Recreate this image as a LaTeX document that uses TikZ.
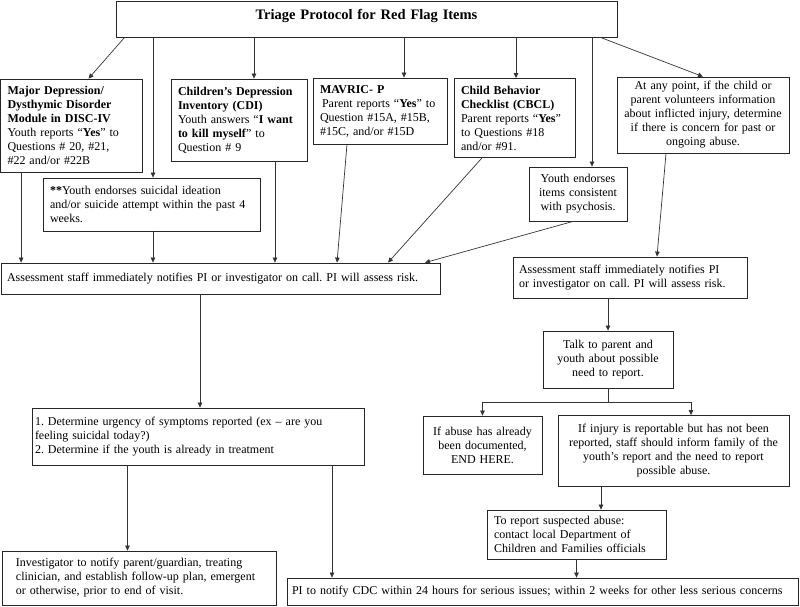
\documentclass[tikz,border=0pt]{standalone}
\usepackage{fontspec}
\setmainfont{Liberation Serif}
\usetikzlibrary{arrows.meta}
\begin{document}
\frenchspacing
\begin{tikzpicture}[x=1pt,y=-1pt,
  box/.style={draw=black!85, line width=0.8pt, rectangle, inner ysep=2pt,
    font=\fontsize{12}{14}\selectfont\frenchspacing},
  lbox/.style={box, align=left},
  cbox/.style={box, align=center},
  arr/.style={draw=black!80, line width=0.7pt, -{Triangle[length=5pt,width=4.5pt]}}]
\useasboundingbox (0,0) rectangle (800,606);

% boxes: (cx,cy), width, height
\node[cbox, minimum width=501pt, minimum height=36pt, text width=490pt, font=\fontsize{14.5}{16}\selectfont\bfseries]
  (title) at (366.5,19) {\raisebox{10pt}{Triage Protocol for Red Flag Items}};

\node[lbox, minimum width=142pt, minimum height=93pt, inner xsep=7pt, text width=128pt] (mdd) at (71.5,125.5)
  {\textbf{Major Depression/}\\ \textbf{Dysthymic Disorder}\\ \textbf{Module in DISC-IV}\\ Youth reports “\textbf{Yes}” to\\ Questions \# 20, \#21,\\ \#22 and/or \#22B};

\node[lbox, minimum width=136pt, minimum height=82pt, inner xsep=7pt, text width=122pt] (cdi) at (239,120)
  {\textbf{Children's Depression}\\ \textbf{Inventory (CDI)}\\ Youth answers “\textbf{I want}\\ \textbf{to kill myself}” to\\ Question \# 9};

\node[lbox, minimum width=134pt, minimum height=66pt, inner xsep=7pt, text width=120pt] (mav) at (380,111)
  {\textbf{MAVRIC- P}\\ \hspace*{2pt}Parent reports “\textbf{Yes}” to\\ Question \#15A, \#15B,\\ \#15C, and/or \#15D};

\node[lbox, minimum width=121pt, minimum height=79pt, inner xsep=7pt, text width=107pt] (cbcl) at (514.5,118)
  {\textbf{Child Behavior}\\ \textbf{Checklist (CBCL)}\\ Parent reports “\textbf{Yes}”\\ to Questions \#18\\ and/or \#91.};

\node[cbox, minimum width=172pt, minimum height=76pt, inner xsep=2pt, text width=168pt] (abuse) at (703,115)
  {At any point, if the child or\\ parent volunteers information\\ about inflicted injury, determine\\ if there is concern for past or\\ ongoing abuse.};

\node[lbox, minimum width=217pt, minimum height=53pt, inner xsep=7pt, text width=203pt] (sui) at (151.5,204.5)
  {\textbf{**}Youth endorses suicidal ideation\\ and/or suicide attempt within the past 4\\ weeks.};

\node[cbox, minimum width=98pt, minimum height=54pt, inner xsep=2pt, text width=94pt] (psy) at (578,194)
  {Youth endorses\\ items consistent\\ with psychosis.};

\node[lbox, minimum width=439pt, minimum height=31pt, inner xsep=6pt, text width=427pt] (ass1) at (220.5,278.5)
  {Assessment staff immediately notifies PI or investigator on call. PI will assess risk.};

\node[lbox, minimum width=234pt, minimum height=41pt, inner xsep=6pt, text width=222pt] (ass2) at (630,277.5)
  {Assessment staff immediately notifies PI\\ or investigator on call. PI will assess risk.};

\node[lbox, minimum width=332pt, minimum height=57pt, inner xsep=3pt, text width=326pt] (det) at (198,436.5)
  {1. Determine urgency of symptoms reported (ex – are you\\ feeling suicidal today?)\\ 2. Determine if the youth is already in treatment};

\node[cbox, minimum width=130pt, minimum height=57pt, inner xsep=3pt, text width=124pt] (talk) at (608,359.5)
  {Talk to parent and\\ youth about possible\\ need to report.};

\node[cbox, minimum width=119pt, minimum height=58pt, inner xsep=2pt, text width=115pt] (endh) at (482.5,445)
  {If abuse has already\\ been documented,\\ END HERE.};

\node[cbox, minimum width=231pt, minimum height=71pt, inner xsep=2pt, text width=227pt] (inj) at (673.5,451)
  {If injury is reportable but has not been\\ reported, staff should inform family of the\\ youth's report and the need to report\\ possible abuse.};

\node[lbox, minimum width=179pt, minimum height=49pt, inner xsep=7pt, text width=165pt] (rep) at (576.5,534.5)
  {To report suspected abuse:\\ contact local Department of\\ Children and Families officials};

\node[lbox, minimum width=274pt, minimum height=54pt, inner xsep=14pt, text width=246pt] (inv) at (139,578)
  {Investigator to notify parent/guardian, treating\\ clinician, and establish follow-up plan, emergent\\ or otherwise, prior to end of visit.};

\node[lbox, minimum width=511pt, minimum height=27pt, inner xsep=5pt, text width=501pt] (cdc) at (542.5,591.5)
  {PI to notify CDC within 24 hours for serious issues; within 2 weeks for other less serious concerns};

% connectors from title
\draw[arr] ([xshift=9pt]title.south west) -- ([xshift=17pt]mdd.north);
\draw[arr] ([xshift=1.5pt]sui.north |- title.south) -- ([xshift=1.5pt]sui.north);
\draw[arr] ([xshift=15pt]cdi.north |- title.south) -- ([xshift=15pt]cdi.north);
\draw[arr] ([xshift=24pt]mav.north |- title.south) -- ([xshift=24pt]mav.north);
\draw[arr] ([xshift=1.5pt]cbcl.north |- title.south) -- ([xshift=1.5pt]cbcl.north);
\draw[arr] ([xshift=14pt]psy.north |- title.south) -- ([xshift=14pt]psy.north);
\draw[arr] ([xshift=-17pt]title.south east) -- (abuse.north);

% into first assessment box
\draw[arr] ([xshift=21pt]mdd.south west) -- ([xshift=21pt]mdd.south west |- ass1.north);
\draw[arr] ([xshift=1.5pt]sui.south) -- ([xshift=1.5pt]sui.south |- ass1.north);
\draw[arr] ([xshift=36pt]cdi.south) -- ([xshift=36pt]cdi.south |- ass1.north);
\draw[arr] ([xshift=-33pt]mav.south) -- ([xshift=116.5pt]ass1.north);
\draw[arr] ([xshift=-32.5pt]cbcl.south) -- ([xshift=167.5pt]ass1.north);
\draw[arr] ([xshift=-5pt]psy.south) -- ([xshift=204.5pt]ass1.north);

% right branch
\draw[arr] ([xshift=-37pt]abuse.south) -- ([xshift=27pt]ass2.north);
\draw[arr] (talk.north |- ass2.south) -- (talk.north);
\draw[arr] (talk.south) -- ++(0,14) -| (endh.north);
\draw[arr] (talk.south) -- ++(0,14) -| ([xshift=17.5pt]inj.north);
\draw[arr] ([xshift=24.5pt]rep.north |- inj.south) -- ([xshift=24.5pt]rep.north);
\draw[arr] (rep.south) -- (rep.south |- cdc.north);

% left branch
\draw[arr] ([xshift=2pt]det.north |- ass1.south) -- ([xshift=2pt]det.north);
\draw[arr] ([xshift=-11.5pt]inv.north |- det.south) -- ([xshift=-11.5pt]inv.north);
\draw[arr] ([xshift=-210.5pt]cdc.north |- det.south) -- ([xshift=-210.5pt]cdc.north);
\end{tikzpicture}
\end{document}
